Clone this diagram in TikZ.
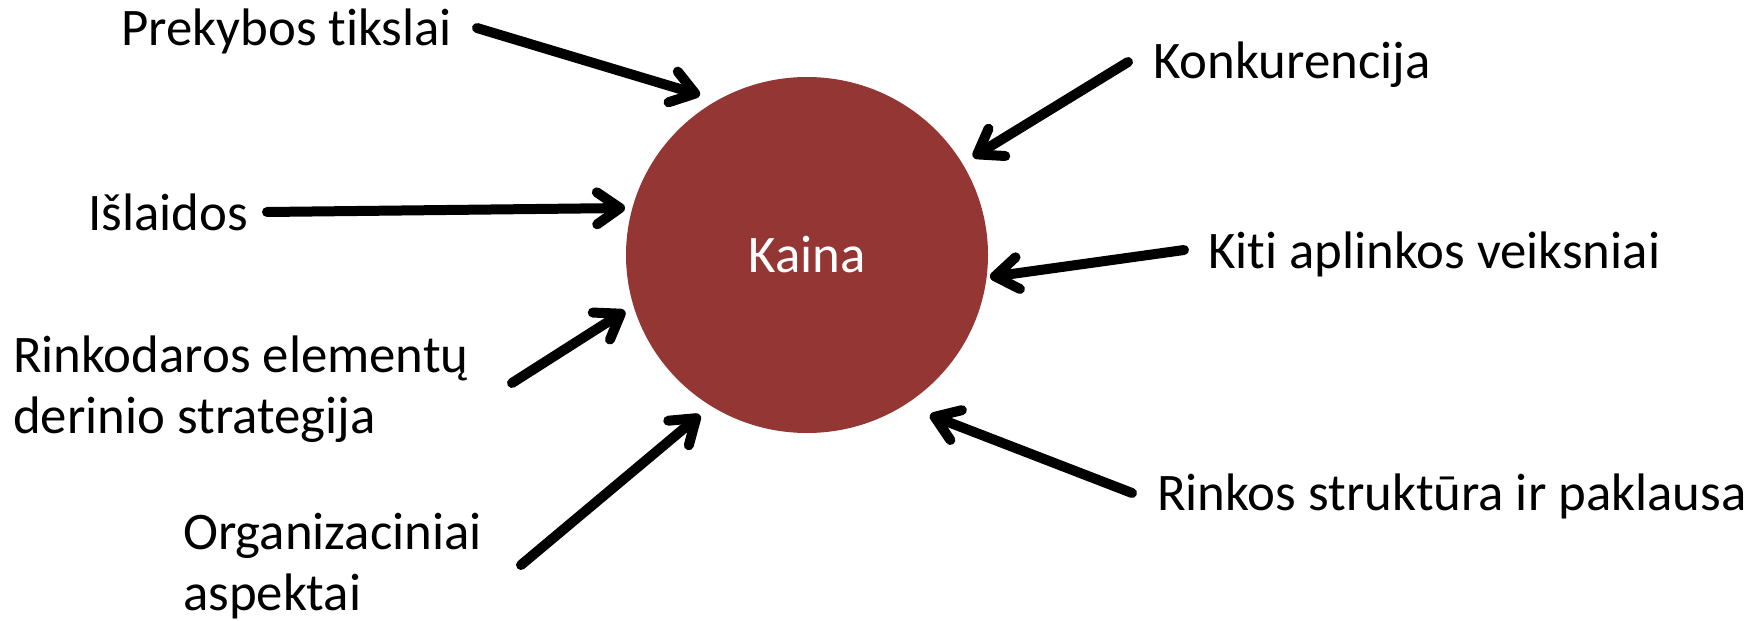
\documentclass[tikz,border=0pt]{standalone}
\usepackage{fontspec}
\setmainfont{Carlito}[Ligatures={NoCommon}]
\usetikzlibrary{arrows.meta,shapes.geometric}
\definecolor{kainared}{HTML}{943634}
\begin{document}
\begin{tikzpicture}[x=1pt,y=-1pt,
  factor/.style={anchor=base west,inner sep=0pt,align=left,
    font=\fontsize{52.8}{61}\selectfont},
  pointer/.style={line width=10pt,line cap=round,line join=round,
    -{Straight Barb[length=23pt,width=32pt,line cap=round,line join=round]}}]
  \useasboundingbox (0,0) rectangle (1756,621);
  % central price circle
  \node[ellipse,fill=kainared,minimum width=362pt,minimum height=356pt,inner sep=0pt] (price) at (807,255) {};
  \node[anchor=base,inner sep=0pt,text=white,font=\fontsize{52.8}{61}\selectfont] (pricelbl) at (807,272) {Kaina};
  % factors on the left (multi-line nodes sit on the baseline of their last line)
  \node[factor] (trade) at (121,45) {Prekybos tikslai};
  \node[factor] (costs) at (88,230) {Išlaidos};
  \node[factor] (mix) at (13,433) {Rinkodaros elementų\\derinio strategija};
  \node[factor] (org) at (183,610) {Organizaciniai\\aspektai};
  % factors on the right
  \node[factor] (comp) at (1153,78) {Konkurencija};
  \node[factor] (env) at (1208,268) {Kiti aplinkos veiksniai};
  \node[factor] (market) at (1157,510) {Rinkos struktūra ir paklausa};
  % arrow ends
  \coordinate (tradeS) at (477,28);  \coordinate (tradeE) at (700,95);
  \coordinate (costsS) at (267,212); \coordinate (costsE) at (625,208);
  \coordinate (mixS) at (512,383);   \coordinate (mixE) at (625,311);
  \coordinate (orgS) at (521,565);   \coordinate (orgE) at (700,415);
  \coordinate (compS) at (1128,62);  \coordinate (compE) at (973,157);
  \coordinate (envS) at (1184,250);  \coordinate (envE) at (990,277);
  \coordinate (marketS) at (1132,493); \coordinate (marketE) at (930,415);
  \foreach \f in {trade,costs,mix,org,comp,env,market}
    \draw[pointer] (\f S) -- (\f E);
\end{tikzpicture}
\end{document}
